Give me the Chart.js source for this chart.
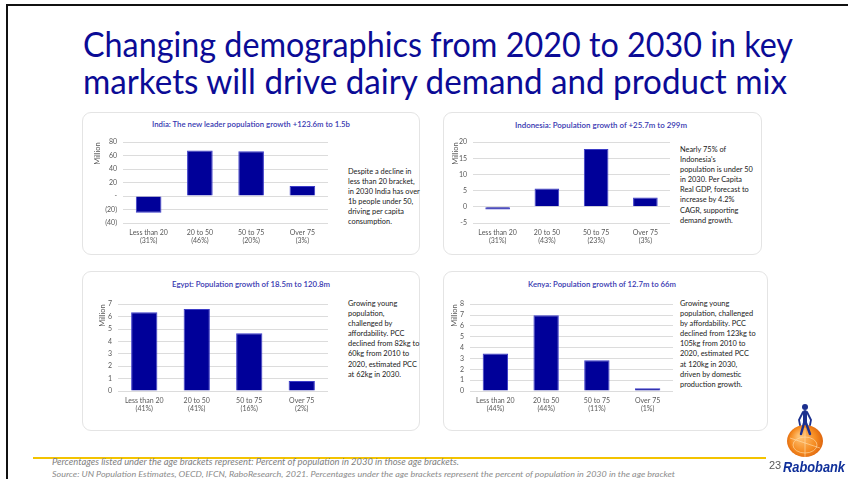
<!DOCTYPE html>
<html>
<head>
<meta charset="utf-8">
<script src="https://cdn.jsdelivr.net/npm/chart.js@4"></script>
<style>
  html, body { margin:0; padding:0; background:#fff; }
  body { width:848px; height:479px; position:relative; overflow:hidden; font-family:Lato, "Open Sans", sans-serif; }
  .frameTop { position:absolute; left:6px; top:4px; width:842px; height:2px; background:#111; }
  .frameLeft { position:absolute; left:6px; top:4px; width:2px; height:475px; background:#111; }
  .fit { position:absolute; white-space:nowrap; display:inline-block; transform-origin:left top; }
  .ttl { font-size:35px; color:#0b0b96; line-height:40px; }
  .panel { position:absolute; background:#fff; border:1px solid #e4e4e4; border-radius:9px; }
  .ctitle { font-size:8px; color:#3636b0; font-weight:600; line-height:10px; }
  .side { position:absolute; font-size:7.4px; line-height:10.1px; color:#1a1a1a; white-space:nowrap; }
  canvas.ch { position:absolute; }
  .foot1 { font-size:10px; font-style:italic; color:#7f7f7f; line-height:12px; }
  .foot2 { font-size:8px; font-style:italic; color:#8c8c8c; line-height:10px; }
  .yline { position:absolute; left:33px; top:457px; width:733px; height:2px; background:#f3c300; }
</style>
</head>
<body>
<div class="frameTop"></div>
<div class="frameLeft"></div>

<span class="fit ttl" data-w="710" style="left:83px;top:23px">Changing demographics from 2020 to 2030 in key</span>
<span class="fit ttl" data-w="704" style="left:83px;top:60px">markets will drive dairy demand and product mix</span>

<div class="panel" style="left:82px;top:112px;width:336px;height:141px"></div>
<div class="panel" style="left:443px;top:112px;width:317px;height:141px"></div>
<div class="panel" style="left:82px;top:271px;width:336px;height:158px"></div>
<div class="panel" style="left:443px;top:271px;width:323px;height:158px"></div>

<span class="fit ctitle" data-w="198" style="left:152px;top:119px">India: The new leader population growth +123.6m to 1.5b</span>
<span class="fit ctitle" data-w="172" style="left:515px;top:120px">Indonesia: Population growth of +25.7m to 299m</span>
<span class="fit ctitle" data-w="158" style="left:172px;top:279px">Egypt: Population growth of 18.5m to 120.8m</span>
<span class="fit ctitle" data-w="148" style="left:528px;top:279px">Kenya: Population growth of 12.7m to 66m</span>

<canvas class="ch" id="cIndia" width="262" height="118" style="left:82px;top:132px"></canvas>
<canvas class="ch" id="cIndonesia" width="237" height="118" style="left:443px;top:132px"></canvas>
<canvas class="ch" id="cEgypt" width="262" height="130" style="left:82px;top:294px"></canvas>
<canvas class="ch" id="cKenya" width="237" height="130" style="left:443px;top:294px"></canvas>

<div class="side" style="left:348px;top:167px">Despite a decline in<br>less than 20 bracket,<br>in 2030 India has over<br>1b people under 50,<br>driving per capita<br>consumption.</div>
<div class="side" style="left:680px;top:145px">Nearly 75% of<br>Indonesia's<br>population is under 50<br>in 2030. Per Capita<br>Real GDP, forecast to<br>increase by 4.2%<br>CAGR, supporting<br>demand growth.</div>
<div class="side" style="left:348px;top:299px">Growing young<br>population,<br>challenged by<br>affordability. PCC<br>declined from 82kg to<br>60kg from 2010 to<br>2020, estimated PCC<br>at 62kg in 2030.</div>
<div class="side" style="left:680px;top:299px">Growing young<br>population, challenged<br>by affordability. PCC<br>declined from 123kg to<br>105kg from 2010 to<br>2020, estimated PCC<br>at 120kg in 2030,<br>driven by domestic<br>production growth.</div>

<div class="yline"></div>
<span class="fit foot1" data-w="407" style="left:52px;top:455px">Percentages listed under the age brackets represent: Percent of population in 2030 in those age brackets.</span>
<span class="fit foot2" data-w="623" style="left:52px;top:469px">Source: UN Population Estimates, OECD, IFCN, RaboResearch, 2021. Percentages under the age brackets represent the percent of population in 2030 in the age bracket</span>

<canvas id="logo" width="50" height="62" style="position:absolute;left:780px;top:398px"></canvas>
<span style="position:absolute;left:769px;top:459px;font-size:11px;color:#595959;font-family:'Liberation Sans Narrow','Liberation Sans',sans-serif">23</span>
<span class="fit" data-w="62" style="left:783px;top:458px;font-size:15px;font-weight:700;font-style:italic;color:#10309a;font-family:'Liberation Sans',sans-serif">Rabobank</span>

<script>
// age brackets
var brackets = ["Less than 20", "20 to 50", "50 to 75", "Over 75"];

// share of population in 2030 per bracket
var indiaShare = ["(31%)", "(46%)", "(20%)", "(3%)"];
var indonesiaShare = ["(31%)", "(43%)", "(23%)", "(3%)"];
var egyptShare = ["(41%)", "(41%)", "(16%)", "(2%)"];
var kenyaShare = ["(44%)", "(44%)", "(11%)", "(1%)"];

// population change 2020-2030, million
var indiaGrowth = [-24.8, 67.5, 66.5, 14.9];
var indonesiaGrowth = [-0.8, 5.7, 17.9, 2.9];
var egyptGrowth = [6.35, 6.62, 4.65, 0.81];
var kenyaGrowth = [3.46, 6.98, 2.84, 0.25];

// y axis ranges [min, max, step]
var indiaAxis = [-40, 80, 20];
var indonesiaAxis = [-5, 20, 5];
var egyptAxis = [0, 7, 1];
var kenyaAxis = [0, 8, 1];

// squeeze/stretch text to the width seen on the slide
document.querySelectorAll('.fit').forEach(function(el) {
  var w = el.getBoundingClientRect().width;
  el.style.transform = 'scaleX(' + (parseFloat(el.dataset.w) / w) + ')';
});

function accounting(v) {
  if (v === 0) return '-';
  if (v < 0) return '(' + (-v) + ')';
  return '' + v;
}

function makeChart(id, values, shares, axis, yWidth, xHeight, padRight, titlePad, acct) {
  var labels = brackets.map(function(b, i) { return [b, shares[i]]; });
  var tickFont = { family: 'Lato', size: 7 };
  return new Chart(document.getElementById(id), {
    type: 'bar',
    data: {
      labels: labels,
      datasets: [{
        data: values,
        backgroundColor: '#000099',
        borderColor: '#3c3cc8',
        borderWidth: 1,
        categoryPercentage: 1,
        barPercentage: 0.5
      }]
    },
    options: {
      responsive: false,
      animation: false,
      layout: { padding: { top: 10, right: padRight, left: 0, bottom: 0 } },
      plugins: { legend: { display: false }, tooltip: { enabled: false }, title: { display: false } },
      scales: {
        x: {
          grid: { display: false, drawTicks: false },
          border: { display: false },
          ticks: { color: '#595959', font: { family: 'Lato', size: 7, lineHeight: 1.25 }, padding: 5, maxRotation: 0, autoSkip: false },
          afterFit: function(s) { s.height = xHeight; }
        },
        y: {
          min: axis[0], max: axis[1],
          grid: { color: '#dcdcdc', lineWidth: 1, drawTicks: false },
          border: { display: false },
          ticks: {
            stepSize: axis[2], autoSkip: false, color: '#595959', font: tickFont, padding: 6,
            callback: function(v) { return acct ? accounting(v) : v; }
          },
          title: { display: true, text: 'Million', align: 'end', color: '#595959', font: { family: 'Lato', size: 7.5 }, padding: { top: titlePad, bottom: 0 } },
          afterFit: function(s) { s.width = yWidth; }
        }
      }
    }
  });
}

makeChart('cIndia', indiaGrowth, indiaShare, indiaAxis, 41, 27, 16, 11, true);
makeChart('cIndonesia', indonesiaGrowth, indonesiaShare, indonesiaAxis, 30, 27, 10, 8, false);
makeChart('cEgypt', egyptGrowth, egyptShare, egyptAxis, 36, 33, 16, 16, false);
makeChart('cKenya', kenyaGrowth, kenyaShare, kenyaAxis, 27, 33, 7, 7, false);

// Rabobank mark
(function() {
  var c = document.getElementById('logo').getContext('2d');
  var g = c.createRadialGradient(20, 38, 2, 25, 44, 20);
  g.addColorStop(0, '#ffc070');
  g.addColorStop(0.6, '#f58a1f');
  g.addColorStop(1, '#d85c0a');
  c.fillStyle = g;
  c.beginPath(); c.ellipse(25, 43, 18, 16, 0, 0, Math.PI * 2); c.fill();
  c.strokeStyle = 'rgba(255,220,170,0.8)'; c.lineWidth = 0.8;
  c.beginPath(); c.ellipse(25, 47, 12, 8, 0, 0, Math.PI * 2); c.stroke();
  c.beginPath(); c.moveTo(10, 40); c.lineTo(40, 50); c.moveTo(25, 30); c.lineTo(25, 59); c.stroke();
  c.fillStyle = '#1b2f8e'; c.strokeStyle = '#1b2f8e';
  c.beginPath(); c.arc(25, 9, 3, 0, Math.PI * 2); c.fill();
  c.lineCap = 'round';
  c.lineWidth = 4;
  c.beginPath(); c.moveTo(25, 14); c.lineTo(25, 25); c.stroke();
  c.lineWidth = 1.8;
  c.beginPath(); c.moveTo(23, 14); c.lineTo(19, 22); c.lineTo(20, 27); c.moveTo(27, 14); c.lineTo(31, 22); c.lineTo(30, 27); c.stroke();
  c.lineWidth = 2.4;
  c.beginPath(); c.moveTo(24, 25); c.lineTo(21, 36); c.moveTo(26, 25); c.lineTo(30, 36); c.stroke();
})();
</script>
</body>
</html>
